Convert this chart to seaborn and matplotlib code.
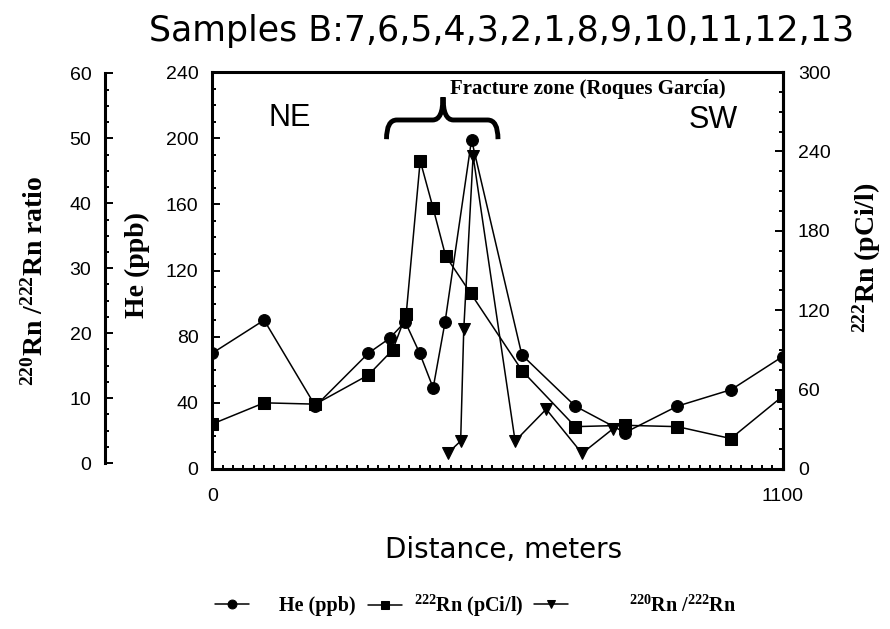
import matplotlib
matplotlib.use('Agg')
import matplotlib.pyplot as plt
from matplotlib.path import Path
from matplotlib.patches import PathPatch
from matplotlib.ticker import MultipleLocator, FixedLocator
import seaborn as sns

# He (ppb) profile
he_dist = [0, 100, 199, 301, 342, 372, 400, 426, 449, 500, 597, 700, 796, 897, 1001, 1100]
he_ppb = [70, 90, 38, 70, 79, 89, 70, 49, 89, 199, 69, 38, 22, 38, 48, 68]

# 222Rn (pCi/l) profile
rn_dist = [0, 100, 199, 301, 348, 374, 401, 426, 450, 498, 598, 700, 796, 897, 1000, 1100]
rn_pci = [34, 50, 49, 71, 90, 117, 233, 197, 161, 133, 74, 32, 33, 32, 23, 55]

# 220Rn/222Rn ratio
ratio_dist = [455, 479, 485, 503, 584, 644, 713, 773]
ratio_val = [1.6, 3.4, 20.6, 47.3, 3.4, 8.3, 1.5, 5.3]

x_ticks = [0, 1100]
he_ticks = [0, 40, 80, 120, 160, 200, 240]
rn_ticks = [0, 60, 120, 180, 240, 300]
ratio_ticks = [0, 10, 20, 30, 40, 50, 60]

sns.set_style('ticks')
plt.rcParams['font.family'] = ['Liberation Sans', 'DejaVu Sans']
plt.rcParams['text.color'] = 'black'
plt.rcParams['axes.labelcolor'] = 'black'
plt.rcParams['mathtext.fontset'] = 'custom'
plt.rcParams['mathtext.rm'] = 'Liberation Serif:bold'
plt.rcParams['mathtext.default'] = 'rm'

serif_bold = {'family': 'Liberation Serif', 'weight': 'bold'}

fig = plt.figure(figsize=(8.9, 6.29), dpi=100)
ax = fig.add_axes([0.2385, 0.2544, 0.6409, 0.6311])
ax_rn = ax.twinx()
ax_ratio = ax.twinx()

line_kw = dict(color='black', linewidth=1.1, markersize=8.5, markeredgecolor='black',
               estimator=None, sort=False, legend=False)
sns.lineplot(x=he_dist, y=he_ppb, marker='o', ax=ax, **line_kw)
sns.lineplot(x=rn_dist, y=rn_pci, marker='s', ax=ax_rn, **line_kw)
sns.lineplot(x=ratio_dist, y=ratio_val, marker='v', ax=ax_ratio, **line_kw)

# ---- axes limits / ticks ----
ax.set_xlim(0, 1100)
ax.set_ylim(0, 240)
ax_rn.set_ylim(0, 300)
ax_ratio.set_ylim(-0.9, 60.2)

ax.xaxis.set_major_locator(FixedLocator(x_ticks))
ax.xaxis.set_minor_locator(MultipleLocator(20))
ax.yaxis.set_major_locator(FixedLocator(he_ticks))
ax.yaxis.set_minor_locator(MultipleLocator(10))
ax_rn.yaxis.set_major_locator(FixedLocator(rn_ticks))
ax_rn.yaxis.set_minor_locator(MultipleLocator(15))
ax_ratio.yaxis.set_major_locator(FixedLocator(ratio_ticks))
ax_ratio.yaxis.set_minor_locator(MultipleLocator(2.5))

for a in (ax, ax_rn, ax_ratio):
    a.tick_params(which='both', direction='in', color='black', labelsize=14,
                  labelcolor='black', width=1.4)
    a.tick_params(which='major', length=6)
    a.tick_params(which='minor', length=3)
    for s in a.spines.values():
        s.set_color('black')
        s.set_linewidth(2.2)

ax.tick_params(axis='x', which='both', top=False, pad=14)
ax.tick_params(axis='y', which='both', right=False, pad=10)
ax_rn.tick_params(axis='y', which='both', left=False, right=True, pad=11)
for s in ('top', 'bottom', 'left'):
    ax_rn.spines[s].set_visible(False)

ax_ratio.yaxis.set_ticks_position('left')
ax_ratio.yaxis.set_label_position('left')
ax_ratio.tick_params(axis='y', which='both', pad=10)
for s in ('top', 'bottom', 'right'):
    ax_ratio.spines[s].set_visible(False)
ax_ratio.spines['left'].set_visible(True)
ax_ratio.spines['left'].set_position(('outward', 77))
ax_ratio.spines['left'].set_bounds(0, 60)

for a in (ax_rn, ax_ratio):
    a.set_xlabel('')
    a.tick_params(axis='x', which='both', bottom=False, top=False,
                  labelbottom=False, labeltop=False)

# ---- axis labels ----
ax.set_ylabel('He (ppb)', fontsize=20, va='center', **serif_bold)
ax.yaxis.set_label_coords(-0.132, 0.514)
ax_rn.set_ylabel(r'$^{222}$Rn (pCi/l)', fontsize=20, va='center', rotation=90, **serif_bold)
ax_rn.yaxis.set_label_coords(1.148, 0.531)
ax_ratio.set_ylabel(r'$^{220}$Rn /$^{222}$Rn ratio', fontsize=20, va='center', **serif_bold)
ax_ratio.yaxis.set_label_coords(-0.311, 0.474)
ax.set_xlabel('Distance, meters', fontsize=20, family='DejaVu Sans', va='center')
ax.xaxis.set_label_coords(0.51, -0.205)

fig.text(0.563, 0.951, 'Samples B:7,6,5,4,3,2,1,8,9,10,11,12,13', fontsize=25,
         family='DejaVu Sans', ha='center', va='center')

# ---- annotations ----
ax.text(150, 212, 'NE', fontsize=22, ha='center', va='center')
ax.text(966, 211, 'SW', fontsize=22, ha='center', va='center')
ax.text(725, 230, 'Fracture zone (Roques García)', fontsize=15, ha='center',
        va='center', **serif_bold)

# curly brace over the fracture zone
bx0, bx1, bxm, br = 336, 551, 445, 20
by_end, by_bar, by_tip = 199.4, 211, 224.8
brace_verts = [(bx0, by_end), (bx0, by_bar), (bx0 + br, by_bar),
               (bxm - br, by_bar), (bxm, by_bar), (bxm, by_tip),
               (bxm, by_bar), (bxm + br, by_bar),
               (bx1 - br, by_bar), (bx1, by_bar), (bx1, by_end)]
brace_codes = [Path.MOVETO, Path.CURVE3, Path.CURVE3,
               Path.LINETO, Path.CURVE3, Path.CURVE3,
               Path.CURVE3, Path.CURVE3,
               Path.LINETO, Path.CURVE3, Path.CURVE3]
ax.add_patch(PathPatch(Path(brace_verts, brace_codes), facecolor='none',
                       edgecolor='black', linewidth=3.5, capstyle='butt',
                       clip_on=False))

# ---- legend (three separate entries, spaced like the original) ----
leg_prop = dict(serif_bold, size=14.5)
entries = [
    (ax.lines[0], 'He (ppb)', 215 / 890, 1.5),
    (ax_rn.lines[0], r'$^{222}$Rn (pCi/l)', 368 / 890, 0.6),
    (ax_ratio.lines[0], r'$^{220}$Rn /$^{222}$Rn', 534 / 890, 3.0),
]
for handle, label, xpos, pad in entries:
    fig.legend([handle], [label], loc='center left', bbox_to_anchor=(xpos, 0.037),
               frameon=False, prop=leg_prop, handlelength=1.7, handletextpad=pad,
               markerscale=0.75, borderpad=0, borderaxespad=0)

fig.savefig('out.png', dpi=100)
